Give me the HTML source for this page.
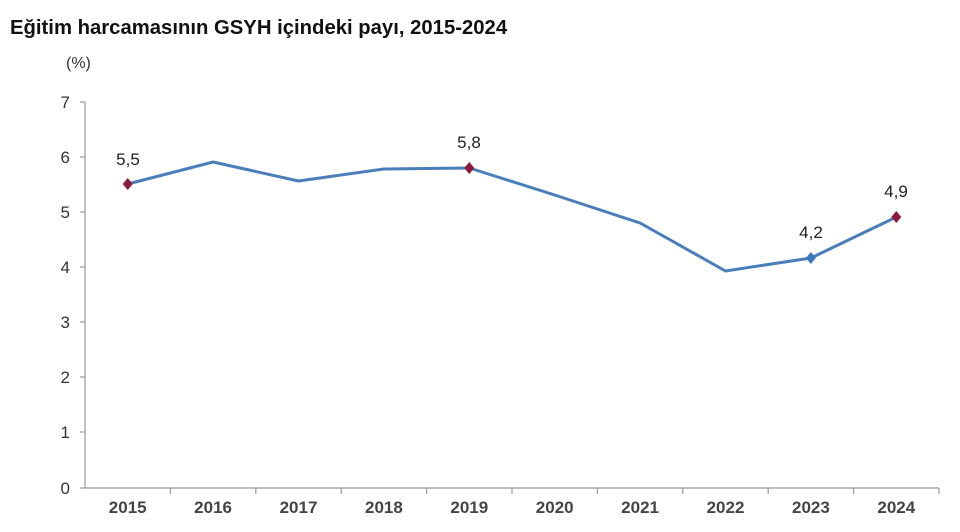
<!DOCTYPE html>
<html><head><meta charset="utf-8"><style>
body{margin:0;background:#fff;}
svg{display:block;font-family:"Liberation Sans",Arial,sans-serif;}
</style></head><body>
<svg width="960" height="532" viewBox="0 0 960 532">
<text x="10" y="34" font-size="20.3" font-weight="bold" fill="#111">Eğitim harcamasının GSYH içindeki payı, 2015-2024</text>
<text x="66" y="68" font-size="16" fill="#333">(%)</text>
<g stroke="#999" stroke-width="1.2" fill="none">
<line x1="85" y1="102" x2="85" y2="488"/>
<line x1="85" y1="488" x2="939" y2="488"/>
<line x1="80" y1="102" x2="85" y2="102"/><line x1="80" y1="157" x2="85" y2="157"/><line x1="80" y1="212" x2="85" y2="212"/><line x1="80" y1="267" x2="85" y2="267"/><line x1="80" y1="322" x2="85" y2="322"/><line x1="80" y1="377" x2="85" y2="377"/><line x1="80" y1="432" x2="85" y2="432"/><line x1="80" y1="488" x2="85" y2="488"/>
<line x1="170.4" y1="488" x2="170.4" y2="494"/><line x1="255.8" y1="488" x2="255.8" y2="494"/><line x1="341.2" y1="488" x2="341.2" y2="494"/><line x1="426.6" y1="488" x2="426.6" y2="494"/><line x1="512" y1="488" x2="512" y2="494"/><line x1="597.4" y1="488" x2="597.4" y2="494"/><line x1="682.8" y1="488" x2="682.8" y2="494"/><line x1="768.2" y1="488" x2="768.2" y2="494"/><line x1="853.6" y1="488" x2="853.6" y2="494"/><line x1="939" y1="488" x2="939" y2="494"/>
</g>
<g font-size="17" fill="#333" text-anchor="end">
<text x="70" y="108">7</text><text x="70" y="163">6</text><text x="70" y="218">5</text><text x="70" y="273">4</text><text x="70" y="328">3</text><text x="70" y="383">2</text><text x="70" y="438">1</text><text x="70" y="494">0</text>
</g>
<g font-size="17" font-weight="bold" fill="#444" text-anchor="middle">
<text x="127.7" y="513">2015</text><text x="213.1" y="513">2016</text><text x="298.5" y="513">2017</text><text x="383.9" y="513">2018</text><text x="469.3" y="513">2019</text><text x="554.7" y="513">2020</text><text x="640.1" y="513">2021</text><text x="725.5" y="513">2022</text><text x="810.9" y="513">2023</text><text x="896.3" y="513">2024</text>
</g>
<polyline fill="none" stroke="#4a7ebb" stroke-width="3" stroke-linejoin="round" points="127.7,184 213.1,162 298.5,181 383.9,169 469.3,168 554.7,195 640.1,223 725.5,271 810.9,258 896.3,217"/>
<g fill="#8b1a3a">
<path d="M127.7,178 l5,6 l-5,6 l-5,-6z"/>
<path d="M469.3,162 l5,6 l-5,6 l-5,-6z"/>
<path d="M896.3,211 l5,6 l-5,6 l-5,-6z"/>
</g>
<path d="M810.9,252 l5,6 l-5,6 l-5,-6z" fill="#3a78c0"/>
<g font-size="17" fill="#222" text-anchor="middle">
<text x="128" y="165">5,5</text><text x="469" y="148">5,8</text><text x="811" y="238">4,2</text><text x="896" y="197">4,9</text>
</g>
</svg>
</body></html>
